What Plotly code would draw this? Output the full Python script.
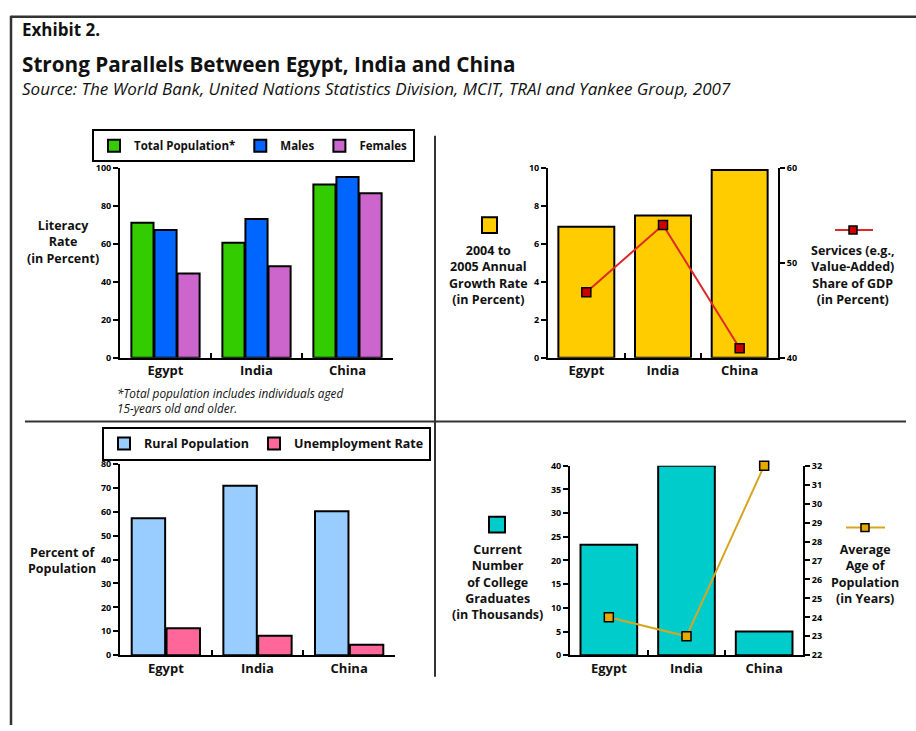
import plotly.graph_objects as go

# ---------------- data ----------------
countries = ["Egypt", "India", "China"]
literacy_total = [71.2, 60.6, 91.4]
literacy_male = [67.4, 73.2, 95.3]
literacy_female = [44.4, 48.2, 86.7]
growth_rate = [6.9, 7.5, 9.9]
services_share = [46.9, 54.0, 41.0]
rural_pop = [57.2, 70.8, 60.2]
unemployment = [11.3, 8.2, 4.4]
graduates = [23.3, 40.0, 5.0]
avg_age = [24.0, 23.0, 32.0]

W, H = 916, 731
FONT = "Open Sans"
WB = "bold"


def px(x):
    return x / W


def py(y):
    return 1 - y / H


fig = go.Figure()
edge = dict(color="black", width=2)

# top-left: literacy
fig.add_trace(go.Bar(x=countries, y=literacy_total, name="Total Population*", marker=dict(color="#33cc00", line=edge),
                     xaxis="x", yaxis="y", legend="legend"))
fig.add_trace(go.Bar(x=countries, y=literacy_male, name="Males", marker=dict(color="#0066ff", line=edge),
                     xaxis="x", yaxis="y", legend="legend"))
fig.add_trace(go.Bar(x=countries, y=literacy_female, name="Females", marker=dict(color="#cc66cc", line=edge),
                     xaxis="x", yaxis="y", legend="legend"))

# top-right: growth + services
fig.add_trace(go.Bar(x=countries, y=growth_rate, name="2004 to 2005 Annual Growth Rate",
                     marker=dict(color="#ffcc00", line=edge), xaxis="x2", yaxis="y2", showlegend=False))
fig.add_trace(go.Scatter(x=countries, y=services_share, mode="lines+markers", name="Services",
                         line=dict(color="#e02828", width=2), cliponaxis=False,
                         marker=dict(symbol="square", size=9, color="#cc0000", line=dict(color="black", width=1.5)),
                         xaxis="x2", yaxis="y3", showlegend=False))

# bottom-left: rural + unemployment
fig.add_trace(go.Bar(x=countries, y=rural_pop, name="Rural Population", marker=dict(color="#99ccff", line=edge),
                     xaxis="x3", yaxis="y4", legend="legend2"))
fig.add_trace(go.Bar(x=countries, y=unemployment, name="Unemployment Rate", marker=dict(color="#ff6699", line=edge),
                     xaxis="x3", yaxis="y4", legend="legend2"))

# bottom-right: graduates + age
fig.add_trace(go.Bar(x=countries, y=graduates, name="College Graduates", marker=dict(color="#00cccc", line=edge),
                     xaxis="x4", yaxis="y5", showlegend=False))
fig.add_trace(go.Scatter(x=countries, y=avg_age, mode="lines+markers", name="Average Age",
                         line=dict(color="#d9a520", width=2), cliponaxis=False,
                         marker=dict(symbol="square", size=9, color="#e8a800", line=dict(color="black", width=1.5)),
                         xaxis="x4", yaxis="y6", showlegend=False))

tickfont_small = dict(family=FONT, size=9, color="black", weight=WB)
catfont = dict(family=FONT, size=13, color="#111", weight=WB)


def xax(x0, x1, anchor):
    return dict(domain=[px(x0), px(x1)], anchor=anchor, showline=True, linecolor="black", linewidth=2,
                ticks="inside", tickson="boundaries", ticklen=5, tickwidth=2, tickcolor="black",
                showgrid=False, zeroline=False, tickfont=catfont, fixedrange=True)


def yax(y0, y1, rng, dtick, anchor, side="left", overlay=None):
    d = dict(domain=[py(y1), py(y0)], anchor=anchor, range=rng, dtick=dtick, showline=True, linecolor="black",
             linewidth=2, ticks="outside", ticklen=5, tickwidth=2, tickcolor="black", showgrid=False,
             zeroline=False, tickfont=tickfont_small, side=side, fixedrange=True)
    if overlay:
        d["overlaying"] = overlay
        d.pop("domain")
    return d


layout = dict(
    width=W, height=H, margin=dict(l=0, r=0, t=0, b=0),
    paper_bgcolor="white", plot_bgcolor="rgba(0,0,0,0)",
    barmode="group", bargap=0.24, bargroupgap=0.04,
    font=dict(family=FONT, color="black"),
    xaxis=xax(120, 393, "y"),
    yaxis=yax(164, 357, [0, 100], 20, "x"),
    xaxis2=xax(548, 778, "y2"),
    yaxis2=yax(164, 357, [0, 10], 2, "x2"),
    yaxis3=yax(164, 357, [40, 60], 10, "x2", side="right", overlay="y2"),
    xaxis3=xax(120, 395, "y4"),
    yaxis4=yax(465, 660, [0, 80], 10, "x3"),
    xaxis4=xax(570, 803, "y5"),
    yaxis5=yax(467, 660, [0, 40], 5, "x4"),
    yaxis6=yax(467, 660, [22, 32], 1, "x4", side="right", overlay="y5"),
    legend=dict(orientation="h", x=px(92), y=py(158), xanchor="left", yanchor="bottom",
                bordercolor="black", borderwidth=2, bgcolor="white", itemwidth=30,
                font=dict(family=FONT, size=11.5, color="#111", weight=WB), traceorder="normal"),
    legend2=dict(orientation="h", x=px(102), y=py(462), xanchor="left", yanchor="bottom",
                 bordercolor="black", borderwidth=2, bgcolor="white", itemwidth=30,
                 font=dict(family=FONT, size=12.5, color="#111", weight=WB), traceorder="normal"),
    showlegend=True,
)
fig.update_layout(**layout)

# ---------- text annotations ----------
ann = []


def text(x, y, s, size=13, xanchor="center", italic=False, weight=WB, align="center", color="#111"):
    ann.append(dict(x=px(x), y=py(y), xref="paper", yref="paper", text=s, showarrow=False,
                    xanchor=xanchor, yanchor="middle", align=align,
                    font=dict(family=FONT, size=size, color=color, weight=weight,
                              style="italic" if italic else "normal")))


text(20, 23, "Exhibit 2.", size=17, xanchor="left")
text(20, 58, "Strong Parallels Between Egypt, India and China", size=20.7, xanchor="left")
text(20, 83, "Source: The World Bank, United Nations Statistics Division, MCIT, TRAI and Yankee Group, 2007",
     size=17, xanchor="left", italic=True, weight="normal")

text(63, 239, "Literacy<br>Rate<br>(in Percent)", size=12.5)
text(115, 401, "*Total population includes individuals aged<br>15-years old and older.", size=11.8,
     xanchor="left", italic=True, weight="normal", align="left")

text(488, 273, "2004 to<br>2005 Annual<br>Growth Rate<br>(in Percent)", size=12.5)
text(853, 273, "Services (e.g.,<br>Value-Added)<br>Share of GDP<br>(in Percent)", size=12.5)

text(62, 564, "Percent of<br>Population", size=12.5)

text(497, 585, "Current<br>Number<br>of College<br>Graduates<br>(in Thousands)", size=12.5)
text(865, 577, "Average<br>Age of<br>Population<br>(in Years)", size=12.5)

fig.update_layout(annotations=ann)

# ---------- decorative shapes (frame, dividers, custom legend keys) ----------
shapes = []


def line(x0, y0, x1, y1, color="#333", width=2):
    shapes.append(dict(type="line", xref="paper", yref="paper", x0=px(x0), y0=py(y0), x1=px(x1), y1=py(y1),
                       line=dict(color=color, width=width)))


def rect(x0, y0, x1, y1, fill, lw=2):
    shapes.append(dict(type="rect", xref="paper", yref="paper", x0=px(x0), y0=py(y0), x1=px(x1), y1=py(y1),
                       fillcolor=fill, line=dict(color="black", width=lw)))


line(11, 10, 916, 10, width=2.5)
line(11, 9, 11, 731, width=2.5)
line(435, 131, 435, 682, width=2)
line(25, 422, 906, 422, width=2)

rect(482, 214, 497, 230, "#ffcc00")
line(835, 227, 873, 227, color="#e02828", width=2)
rect(849, 223, 857, 231, "#cc0000", lw=1.5)

rect(489, 519, 505, 535, "#00cccc")
line(846, 530, 885, 530, color="#d9a520", width=2)
rect(861, 526, 869, 534, "#e8a800", lw=1.5)

fig.update_layout(shapes=shapes)

fig.write_html("out.html")
